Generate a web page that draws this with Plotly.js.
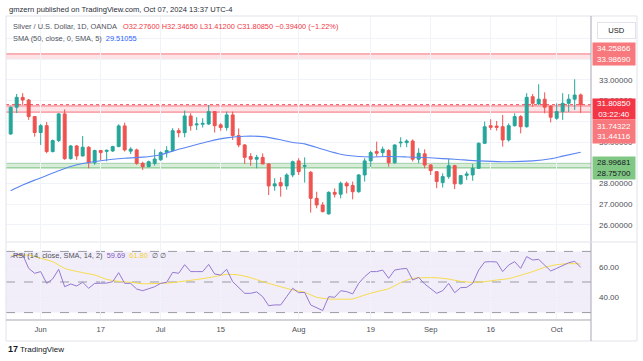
<!DOCTYPE html>
<html><head><meta charset="utf-8">
<script src="https://cdn.plot.ly/plotly-3.0.1.min.js"></script>
<style>html,body{margin:0;padding:0;background:#fff;}#chart{width:643px;height:361px;}</style>
</head><body><div id="chart"></div>
<script>
const dates = ['2024-05-27','2024-05-28','2024-05-29','2024-05-30','2024-05-31',
'2024-06-03','2024-06-04','2024-06-05','2024-06-06','2024-06-07','2024-06-10','2024-06-11','2024-06-12','2024-06-13','2024-06-14','2024-06-17','2024-06-18','2024-06-19','2024-06-20','2024-06-21','2024-06-24','2024-06-25','2024-06-26','2024-06-27','2024-06-28',
'2024-07-01','2024-07-02','2024-07-03','2024-07-04','2024-07-05','2024-07-08','2024-07-09','2024-07-10','2024-07-11','2024-07-12','2024-07-15','2024-07-16','2024-07-17','2024-07-18','2024-07-19','2024-07-22','2024-07-23','2024-07-24','2024-07-25','2024-07-26','2024-07-29','2024-07-30','2024-07-31',
'2024-08-01','2024-08-02','2024-08-05','2024-08-06','2024-08-07','2024-08-08','2024-08-09','2024-08-12','2024-08-13','2024-08-14','2024-08-15','2024-08-16','2024-08-19','2024-08-20','2024-08-21','2024-08-22','2024-08-23','2024-08-26','2024-08-27','2024-08-28','2024-08-29','2024-08-30',
'2024-09-02','2024-09-03','2024-09-04','2024-09-05','2024-09-06','2024-09-09','2024-09-10','2024-09-11','2024-09-12','2024-09-13','2024-09-16','2024-09-17','2024-09-18','2024-09-19','2024-09-20','2024-09-23','2024-09-24','2024-09-25','2024-09-26','2024-09-27','2024-09-30',
'2024-10-01','2024-10-02','2024-10-03','2024-10-04','2024-10-07'];

const open = [30.39,31.68,32.16,32.03,31.23, 30.46,30.79,29.54,30.07,31.36,29.20,29.81,29.33,29.75,29.00,29.59,29.55,29.57,29.78,30.78,29.56,29.62,28.97,28.81,28.97,
29.14,29.49,29.59,30.55,30.45,31.26,30.83,30.86,30.87,31.47,30.83,30.70,31.31,30.31,29.86,29.30,29.17,29.26,28.94,27.88,28.04,27.88,28.41,
29.09,28.83,28.54,27.28,26.96,26.53,27.57,27.48,28.01,27.90,27.60,28.41,29.09,29.54,29.49,29.59,29.00,29.96,29.97,30.05,29.17,29.43,
28.89,28.57,28.04,28.33,28.86,27.98,28.39,28.41,28.73,29.94,30.79,30.77,30.74,30.10,30.79,31.23,30.74,32.19,31.84,32.07,31.74,
31.15,31.47,31.87,32.07,32.276];
const high = [31.72,32.32,32.36,32.08,31.25, 30.87,30.97,30.12,31.40,31.58,29.86,29.86,30.29,29.80,29.63,29.62,29.63,29.82,30.86,30.94,29.75,29.68,29.05,29.10,29.65,
29.55,29.80,30.67,30.67,31.52,31.39,31.20,31.15,31.79,31.50,30.91,31.47,31.47,30.66,29.90,29.46,29.38,29.45,28.98,28.25,28.30,28.49,29.10,
29.22,29.26,28.60,27.60,27.10,27.62,27.76,28.09,28.09,28.09,28.45,29.22,29.58,30.02,29.78,29.66,29.88,30.23,30.13,30.13,29.70,29.65,
28.95,28.60,28.49,29.18,28.90,28.40,28.58,28.94,29.98,30.99,31.10,31.02,31.31,30.90,31.39,31.30,32.36,32.32,32.79,32.40,31.78,
31.87,32.36,32.31,33.03,32.3465];
const low = [30.35,31.40,31.79,31.07,30.26, 29.86,29.46,29.50,30.00,29.14,29.15,29.14,29.30,28.73,28.90,29.13,29.07,29.52,29.75,29.54,29.42,28.90,28.65,28.78,28.86,
29.10,29.25,29.55,30.23,30.23,30.55,30.58,30.70,30.83,30.46,30.55,30.55,30.10,29.75,28.94,28.85,28.73,28.94,27.44,27.65,27.36,27.70,28.30,
28.41,28.04,26.59,26.80,26.60,26.50,27.32,27.28,27.52,27.23,27.55,28.09,28.80,29.30,29.30,28.81,28.95,29.75,29.75,29.06,28.98,28.73,
28.41,27.77,27.80,28.22,27.73,27.95,28.17,28.13,28.70,29.90,30.58,30.55,29.78,30.02,30.75,30.42,30.70,31.71,31.79,31.39,30.95,
31.07,31.07,31.45,31.55,31.412];
const close = [31.68,32.16,32.03,31.23,30.46, 30.79,29.54,30.07,31.36,29.20,29.81,29.33,29.75,29.00,29.59,29.49,29.60,29.78,30.78,29.62,29.66,28.97,28.81,29.05,29.18,
29.49,29.59,30.55,30.45,31.26,30.79,30.87,30.90,31.47,30.79,30.70,31.31,30.31,29.86,29.26,29.17,29.26,28.94,27.88,27.98,27.88,28.41,29.05,
28.57,28.86,27.28,26.96,26.64,27.57,27.48,28.01,27.88,27.60,28.41,29.09,29.49,29.46,29.65,29.00,29.86,29.99,30.05,29.17,29.46,28.89,
28.62,28.09,28.33,28.86,27.98,28.38,28.46,28.73,29.94,30.74,30.71,30.71,30.10,30.79,31.23,30.74,32.16,31.87,32.07,31.68,31.20,
31.47,31.87,32.07,32.27,31.8085];

// SMA(50) read at sampled candles (index into dates)
const smaIdx = [0,2,4,6,8,10,12,15,17,19,22,25,28,31,33,36,39,42,45,47,49,52,55,58,60,63,66,69,72,74,78,82,87,90,92,95];
const smaVal = [27.65,27.92,28.16,28.38,28.61,28.82,28.96,29.10,29.17,29.22,29.27,29.39,29.65,29.88,30.03,30.20,30.28,30.26,30.11,29.98,29.91,29.65,29.41,29.30,29.28,29.30,29.28,29.25,29.20,29.17,29.09,29.05,29.09,29.19,29.32,29.51];

const rsi = [66.1,67.9,67.9,58.9,55.7,56.8,49.1,52.0,58.3,46.9,48.7,47.4,49.8,45.9,49.1,49.1,49.3,50.2,56.1,49.1,49.1,45.4,44.3,45.6,46.9,
49.1,49.8,56.3,55.7,61.3,56.8,56.8,56.8,61.5,55.2,54.6,58.3,50.2,46.5,42.6,42.6,43.5,40.4,34.5,35.0,35.0,40.4,45.9,
43.0,43.2,35.0,33.2,31.3,40.4,40.0,44.3,43.7,42.2,49.1,53.5,56.8,56.8,57.8,52.4,57.8,58.5,58.9,51.3,53.0,48.7,
45.9,42.6,44.3,49.1,43.0,46.3,46.5,49.1,57.8,63.1,63.3,63.1,56.8,61.1,63.3,58.9,66.6,64.4,64.8,61.1,57.2,
58.9,60.9,62.6,63.5,59.69];
const rsiMaIdx = [0,3,5,7,9,12,14,16,18,20,22,25,27,29,32,34,36,38,40,42,45,47,49,51,53,55,57,59,61,63,65,67,69,71,73,75,77,79,81,83,85,87,89,91,93,95];
const rsiMaVal = [67.0,67.6,65.5,63.3,58.9,56.1,54.6,51.7,50.4,49.8,48.9,49.1,49.6,50.6,52.2,53.5,55.0,54.6,52.8,50.2,46.9,44.8,43.2,40.0,38.9,38.7,38.9,41.5,43.7,45.6,49.6,52.4,52.8,52.8,51.9,50.4,49.8,50.2,51.3,52.2,54.4,56.8,59.6,61.3,62.0,61.8];

const tickDates = ['2024-06-03','2024-06-17','2024-07-01','2024-07-15','2024-08-01','2024-08-19','2024-09-02','2024-09-16','2024-10-01'];
const tickLabels = ['Jun','17','Jul','15','Aug','19','Sep','16','Oct'];
const priceTicks = [26,27,28,29,30,31,32,33,34,35];
// labels fully hidden behind the price boxes in the reference are left blank
const priceTickText = ['26.00000','27.00000','28.00000','','30.00000','','32.00000','33.00000','',''];
const rsiTicks = [40,60];
const rsiTickText = ['40.00','60.00'];
const resistanceZone = [33.98690, 34.25866];
const midZone = [31.44116, 31.74322];
const supportZone = [28.75700, 28.99681];
const lastPrice = 31.80850;
const rsiLevels = [30, 50, 70];

const W = 643, H = 361;
const fx = p => p / W, fy = p => 1 - p / H;
const GREEN = '#26a69a', RED = '#ef5350';
const FONT = 'Liberation Sans, Arial, sans-serif';

const traces = [
  {type:'candlestick', x:dates, open:open, high:high, low:low, close:close, xaxis:'x', yaxis:'y',
   increasing:{line:{color:GREEN,width:1}, fillcolor:GREEN},
   decreasing:{line:{color:RED,width:1}, fillcolor:RED},
   whiskerwidth:0, showlegend:false, hoverinfo:'skip'},
  {type:'scatter', mode:'lines', x:smaIdx.map(i=>dates[i]), y:smaVal, xaxis:'x', yaxis:'y',
   line:{color:'#5b86f2', width:1.1, shape:'spline', smoothing:0.6}, showlegend:false, hoverinfo:'skip'},
  {type:'scatter', mode:'lines', x:rsiMaIdx.map(i=>dates[i]), y:rsiMaVal, xaxis:'x2', yaxis:'y2',
   line:{color:'#f7dc4a', width:1, shape:'spline', smoothing:0.6}, showlegend:false, hoverinfo:'skip'},
  {type:'scatter', mode:'lines', x:dates, y:rsi, xaxis:'x2', yaxis:'y2',
   line:{color:'#9479d0', width:1}, showlegend:false, hoverinfo:'skip'}
];

const shapes = [];
function zone(z, fill, edge){
  shapes.push({type:'rect', xref:'x domain', yref:'y', x0:0, x1:1, y0:z[0], y1:z[1], fillcolor:fill, line:{width:0}, layer:'below'});
  z.forEach(v => shapes.push({type:'line', xref:'x domain', yref:'y', x0:0, x1:1, y0:v, y1:v, line:{color:edge, width:1.2}, layer:'below'}));
}
zone(resistanceZone, 'rgba(242,54,69,0.14)', 'rgba(242,54,69,0.55)');
zone(midZone, 'rgba(242,54,69,0.14)', 'rgba(242,54,69,0.55)');
zone(supportZone, 'rgba(76,175,80,0.22)', 'rgba(76,175,80,0.6)');
shapes.push({type:'line', xref:'x domain', yref:'y', x0:0, x1:1, y0:lastPrice, y1:lastPrice, line:{color:'rgba(242,54,69,0.85)', width:1, dash:'dot'}});
shapes.push({type:'rect', xref:'x2 domain', yref:'y2', x0:0, x1:1, y0:rsiLevels[0], y1:rsiLevels[2], fillcolor:'rgba(126,87,194,0.10)', line:{width:0}, layer:'below'});
rsiLevels.forEach(v => shapes.push({type:'line', xref:'x2 domain', yref:'y2', x0:0, x1:1, y0:v, y1:v, line:{color:'#9a9ca5', width:1, dash:'dash'}, layer:'below'}));
shapes.push({type:'rect', xref:'paper', yref:'paper', x0:fx(6), x1:fx(637), y0:fy(341), y1:fy(16), line:{color:'#e0e3eb', width:1}});
shapes.push({type:'line', xref:'paper', yref:'paper', x0:fx(591), x1:fx(591), y0:fy(341), y1:fy(16), line:{color:'#a6a9b2', width:1}});
shapes.push({type:'line', xref:'paper', yref:'paper', x0:fx(6), x1:fx(591), y0:fy(320), y1:fy(320), line:{color:'#a6a9b2', width:1}});
shapes.push({type:'line', xref:'paper', yref:'paper', x0:fx(6), x1:fx(637), y0:fy(242), y1:fy(242), line:{color:'#e0e3eb', width:1}});

const nb = '\u00a0';
const ann = [];
function txt(x, y, text, size, color, extra){
  ann.push(Object.assign({xref:'paper', yref:'paper', x:fx(x), y:fy(y), xanchor:'left', yanchor:'middle', showarrow:false,
    text:text, font:{family:FONT, size:size, color:color}}, extra||{}));
}
txt(7, 10, 'gmzern published on TradingView.com, Oct 07, 2024 13:37 UTC-4', 7.6, '#2a2e39');
txt(11, 27, 'Silver / U.S. Dollar, 1D, OANDA' + nb+nb+nb + '<span style="color:#f23645">O32.27600' + nb + 'H32.34650' + nb + 'L31.41200' + nb + 'C31.80850' + nb + '−0.39400 (−1.22%)</span>', 7.4, '#50535e');
txt(11, 39, 'SMA (50, close, 0, SMA, 5)' + nb + nb + '<span style="color:#2962ff">29.51055</span>', 7.4, '#50535e');
txt(11, 255, 'RSI (14, close, SMA, 14, 2)' + nb + nb + '<span style="color:#7e57c2">59.69</span>' + nb + nb + '<span style="color:#f2d22e">61.80</span>' + nb + nb + '∅' + nb + '∅', 7.4, '#50535e');
function box(y0, h, text, bg, color){
  ann.push({xref:'paper', yref:'paper', x:fx(592), y:fy(y0), xanchor:'left', yanchor:'top', showarrow:false,
    width:42, height:h, borderpad:0, bgcolor:bg, align:'center', valign:'middle',
    text:text, font:{family:FONT, size:8, color:color}});
}
box(42, 22, '34.25866<br>33.98690', '#f7797d', '#ffffff');
box(98, 20, '31.80850<br>03:22:40', '#f23645', '#ffffff');
box(118.5, 23, '31.74322<br>31.44116', '#f7797d', '#ffffff');
box(155.5, 22, '28.99681<br>28.75700', '#81c784', '#131722');
ann.push({xref:'paper', yref:'paper', x:fx(597), y:fy(22), xanchor:'left', yanchor:'top', showarrow:false,
  width:37, height:15, borderpad:0, bgcolor:'#ffffff', bordercolor:'#e0e3eb', borderwidth:1,
  text:'USD', font:{family:FONT, size:7.6, color:'#131722'}});
txt(6, 349, '<b>17</b>', 9, '#131722');
txt(18, 349, 'TradingView', 8, '#131722');

const layout = {
  width:W, height:H, margin:{l:0, r:0, t:0, b:0}, paper_bgcolor:'#ffffff', plot_bgcolor:'#ffffff',
  showlegend:false, dragmode:false,
  xaxis:{domain:[fx(6), fx(591)], anchor:'y', type:'category', range:[-0.78, 96.72], rangeslider:{visible:false},
    tickvals:tickDates, ticktext:tickLabels, showticklabels:false, showgrid:true, gridcolor:'#f0f3fa', gridwidth:1,
    zeroline:false, showline:false, ticks:''},
  yaxis:{domain:[fy(241), fy(17)], anchor:'x', range:[25.22, 36.04], side:'right', tickvals:priceTicks, ticktext:priceTickText,
    showgrid:true, gridcolor:'#f0f3fa', zeroline:false, showline:false, ticks:'', ticklabelstandoff:7,
    tickfont:{family:FONT, size:8, color:'#4c4f58'}},
  xaxis2:{domain:[fx(6), fx(591)], anchor:'y2', type:'category', matches:'x', range:[-0.78, 96.72],
    tickvals:tickDates, ticktext:tickLabels, showticklabels:true, showgrid:true, gridcolor:'#f0f3fa',
    zeroline:false, showline:false, ticks:'', ticklabelstandoff:4, tickfont:{family:FONT, size:7.6, color:'#4c4f58'}},
  yaxis2:{domain:[fy(319), fy(243)], anchor:'x2', range:[25.8, 75.5], side:'right', tickvals:rsiTicks, ticktext:rsiTickText,
    showgrid:true, gridcolor:'#efecf7', zeroline:false, showline:false, ticks:'', ticklabelstandoff:7,
    tickfont:{family:FONT, size:8, color:'#4c4f58'}},
  shapes:shapes, annotations:ann
};
Plotly.newPlot('chart', traces, layout, {staticPlot:true, displayModeBar:false});
</script></body></html>
